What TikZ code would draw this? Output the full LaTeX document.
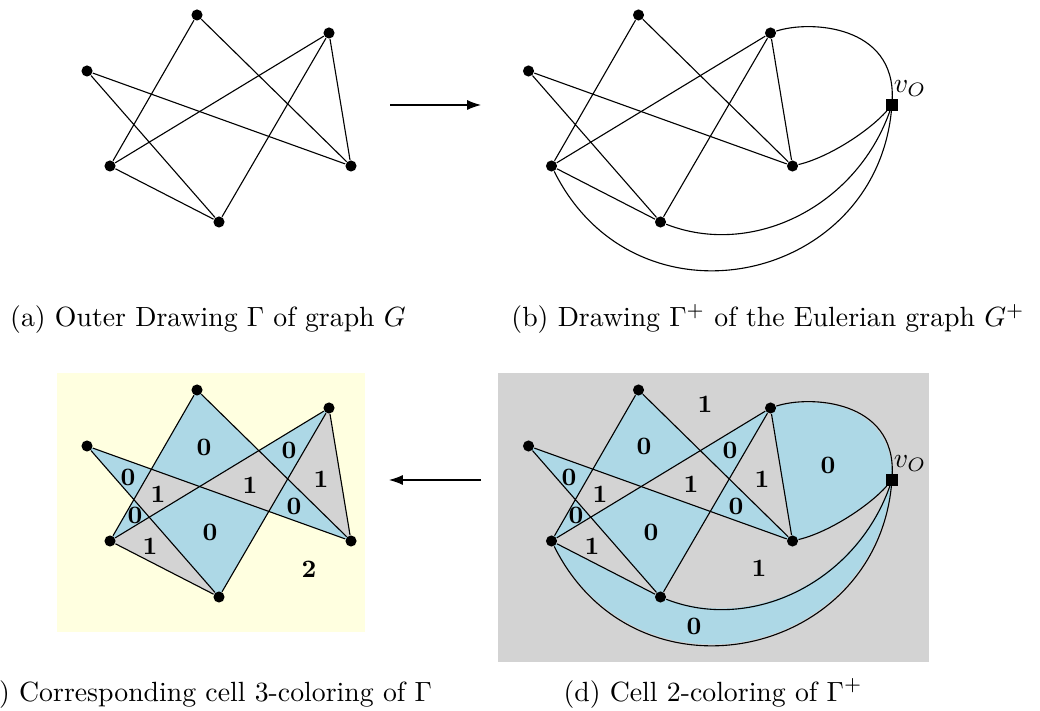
\documentclass[tikz,border=0pt]{standalone}
\usepackage{amsmath,amssymb}
\usetikzlibrary{arrows.meta,positioning,backgrounds}
\definecolor{cellblue}{RGB}{173,216,230}
\definecolor{cellgray}{RGB}{211,211,211}
\definecolor{cellyellow}{RGB}{255,255,224}

\begin{document}
\begin{tikzpicture}[x=0.36pt,y=0.36pt,
vtx/.style={circle,fill=black,inner sep=0pt,minimum size=4pt},
outv/.style={rectangle,fill=black,inner sep=0pt,minimum size=4pt},
cnum/.style={font=\small\bfseries,inner sep=0pt},
capt/.style={anchor=base,inner sep=0pt}]
\useasboundingbox (0,0) rectangle (1040,-711);

% (a) the drawing Gamma
\node[vtx] (a1) at (197,-15) {};
\node[vtx] (a2) at (329,-33) {};
\node[vtx] (a3) at (87,-71) {};
\node[vtx] (a4) at (110,-166) {};
\node[vtx] (a5) at (351,-166) {};
\node[vtx] (a6) at (219,-222) {};
\draw (a1)--(a4)--(a6)--(a3)--(a5)--(a1);
\draw (a2)--(a4);
\draw (a6)--(a2)--(a5);

% (b) Gamma plus the outer vertex
\node[vtx] (b1) at (638.5,-15) {};
\node[vtx] (b2) at (770.5,-33) {};
\node[vtx] (b3) at (528.5,-71) {};
\node[vtx] (b4) at (551.5,-166) {};
\node[vtx] (b5) at (792.5,-166) {};
\node[vtx] (b6) at (660.5,-222) {};
\node[outv] (bO) at (892,-105) {};
\node[anchor=south west,inner sep=0.5pt] (bOl) at (bO.north) {$v_O$};
\draw (b1)--(b4)--(b6)--(b3)--(b5)--(b1);
\draw (b2)--(b4);
\draw (b6)--(b2)--(b5);
\draw (b2) .. controls +(39.5,13) and +(3,80) .. (bO);
\draw (b5) .. controls +(37.5,9) and +(-22,-25) .. (bO);
\draw (b6) .. controls +(91.5,-36) and +(-36,-102) .. (bO);
\draw (b4) .. controls +(84.5,-169) and +(-18,-179) .. (bO);

% arrows between the panels
\coordinate (arrAs) at (390,-105);
\coordinate (arrAe) at (481,-105);
\draw[-{Latex[length=5pt,width=3.6pt]}] (arrAs)--(arrAe);
\coordinate (arrDs) at (481,-480);
\coordinate (arrDe) at (389,-480);
\draw[-{Latex[length=5pt,width=3.6pt]}] (arrDs)--(arrDe);

% (c) cell 3-coloring
\node[vtx] (c1) at (197,-390) {};
\node[vtx] (c2) at (329,-408) {};
\node[vtx] (c3) at (87,-446) {};
\node[vtx] (c4) at (110,-541) {};
\node[vtx] (c5) at (351,-541) {};
\node[vtx] (c6) at (219,-597) {};
\coordinate (cO) at (451,-480);
\draw (c1)--(c4)--(c6)--(c3)--(c5)--(c1);
\draw (c2)--(c4);
\draw (c6)--(c2)--(c5);
\coordinate (cx1) at (intersection of c3.center--c5.center and c1.center--c4.center);
\coordinate (cx2) at (intersection of c1.center--c5.center and c2.center--c4.center);
\coordinate (cx3) at (intersection of c3.center--c5.center and c2.center--c6.center);
\coordinate (cx4) at (intersection of c3.center--c6.center and c1.center--c4.center);
\begin{scope}[on background layer]
\fill[cellyellow] (57,-373) rectangle (365,-632);
\begin{scope}
\clip (c3.center)--(cx1)--(c1.center)--(cx2)--(c2.center)--(c5.center)
  --(cx3)--(c6.center)--(c4.center)--(cx4)--cycle;
\fill[cellgray] (57,-373) rectangle (365,-632);
\fill[cellblue,even odd rule] (cO) .. controls +(3,80) and +(39.5,13) .. (c2.center)
  --(c5.center)--(c1.center)--(c4.center)--(c2.center)--(c6.center)--(c3.center)--(c5.center)
  .. controls +(37.5,9) and +(-22,-25) .. (cO)
  .. controls +(-36,-102) and +(91.5,-36) .. (c6.center)--(c4.center)
  .. controls +(84.5,-169) and +(-18,-179) .. (cO)--cycle;
\end{scope}
\end{scope}
\node[cnum] (cl1) at (204,-447) {0};
\node[cnum] (cl2) at (289,-450) {0};
\node[cnum] (cl3) at (128,-477) {0};
\node[cnum] (cl4) at (158,-494) {1};
\node[cnum] (cl5) at (250,-485) {1};
\node[cnum] (cl6) at (321,-479) {1};
\node[cnum] (cl7) at (135,-515) {0};
\node[cnum] (cl8) at (294,-506) {0};
\node[cnum] (cl9) at (210,-532) {0};
\node[cnum] (cl10) at (150,-546) {1};
\node[cnum] (cl11) at (309,-569) {2};

% (d) cell 2-coloring
\node[vtx] (d1) at (638.5,-390) {};
\node[vtx] (d2) at (770.5,-408) {};
\node[vtx] (d3) at (528.5,-446) {};
\node[vtx] (d4) at (551.5,-541) {};
\node[vtx] (d5) at (792.5,-541) {};
\node[vtx] (d6) at (660.5,-597) {};
\node[outv] (dO) at (892,-480) {};
\node[anchor=south west,inner sep=0.5pt] (dOl) at (dO.north) {$v_O$};
\draw (d1)--(d4)--(d6)--(d3)--(d5)--(d1);
\draw (d2)--(d4);
\draw (d6)--(d2)--(d5);
\draw (d2) .. controls +(39.5,13) and +(3,80) .. (dO);
\draw (d5) .. controls +(37.5,9) and +(-22,-25) .. (dO);
\draw (d6) .. controls +(91.5,-36) and +(-36,-102) .. (dO);
\draw (d4) .. controls +(84.5,-169) and +(-18,-179) .. (dO);
\begin{scope}[on background layer]
\fill[cellgray] (498,-373) rectangle (929,-662);
\fill[cellblue,even odd rule] (dO.center) .. controls +(3,80) and +(39.5,13) .. (d2.center)
  --(d5.center)--(d1.center)--(d4.center)--(d2.center)--(d6.center)--(d3.center)--(d5.center)
  .. controls +(37.5,9) and +(-22,-25) .. (dO.center)
  .. controls +(-36,-102) and +(91.5,-36) .. (d6.center)--(d4.center)
  .. controls +(84.5,-169) and +(-18,-179) .. (dO.center)--cycle;
\end{scope}
\node[cnum] (dl1) at (705,-404) {1};
\node[cnum] (dl2) at (644,-446) {0};
\node[cnum] (dl3) at (730,-450) {0};
\node[cnum] (dl4) at (828,-465) {0};
\node[cnum] (dl5) at (569,-477) {0};
\node[cnum] (dl6) at (600,-494) {1};
\node[cnum] (dl7) at (691,-484) {1};
\node[cnum] (dl8) at (762,-479) {1};
\node[cnum] (dl9) at (576,-515) {0};
\node[cnum] (dl10) at (736,-506) {0};
\node[cnum] (dl11) at (651,-532) {0};
\node[cnum] (dl12) at (592,-546) {1};
\node[cnum] (dl13) at (759,-568) {1};
\node[cnum] (dl14) at (694,-626) {0};

% captions
\node[capt] (capa) at (208,-327) {(a) Outer Drawing $\Gamma$ of graph $G$};
\node[capt] (capb) at (768,-327) {(b) Drawing $\Gamma^+$ of the Eulerian graph $G^+$};
\node[capt] (capc) at (204,-701) {(c) Corresponding cell 3-coloring of $\Gamma$};
\node[capt] (capd) at (713,-701) {(d) Cell 2-coloring of $\Gamma^+$};
\end{tikzpicture}
\end{document}
